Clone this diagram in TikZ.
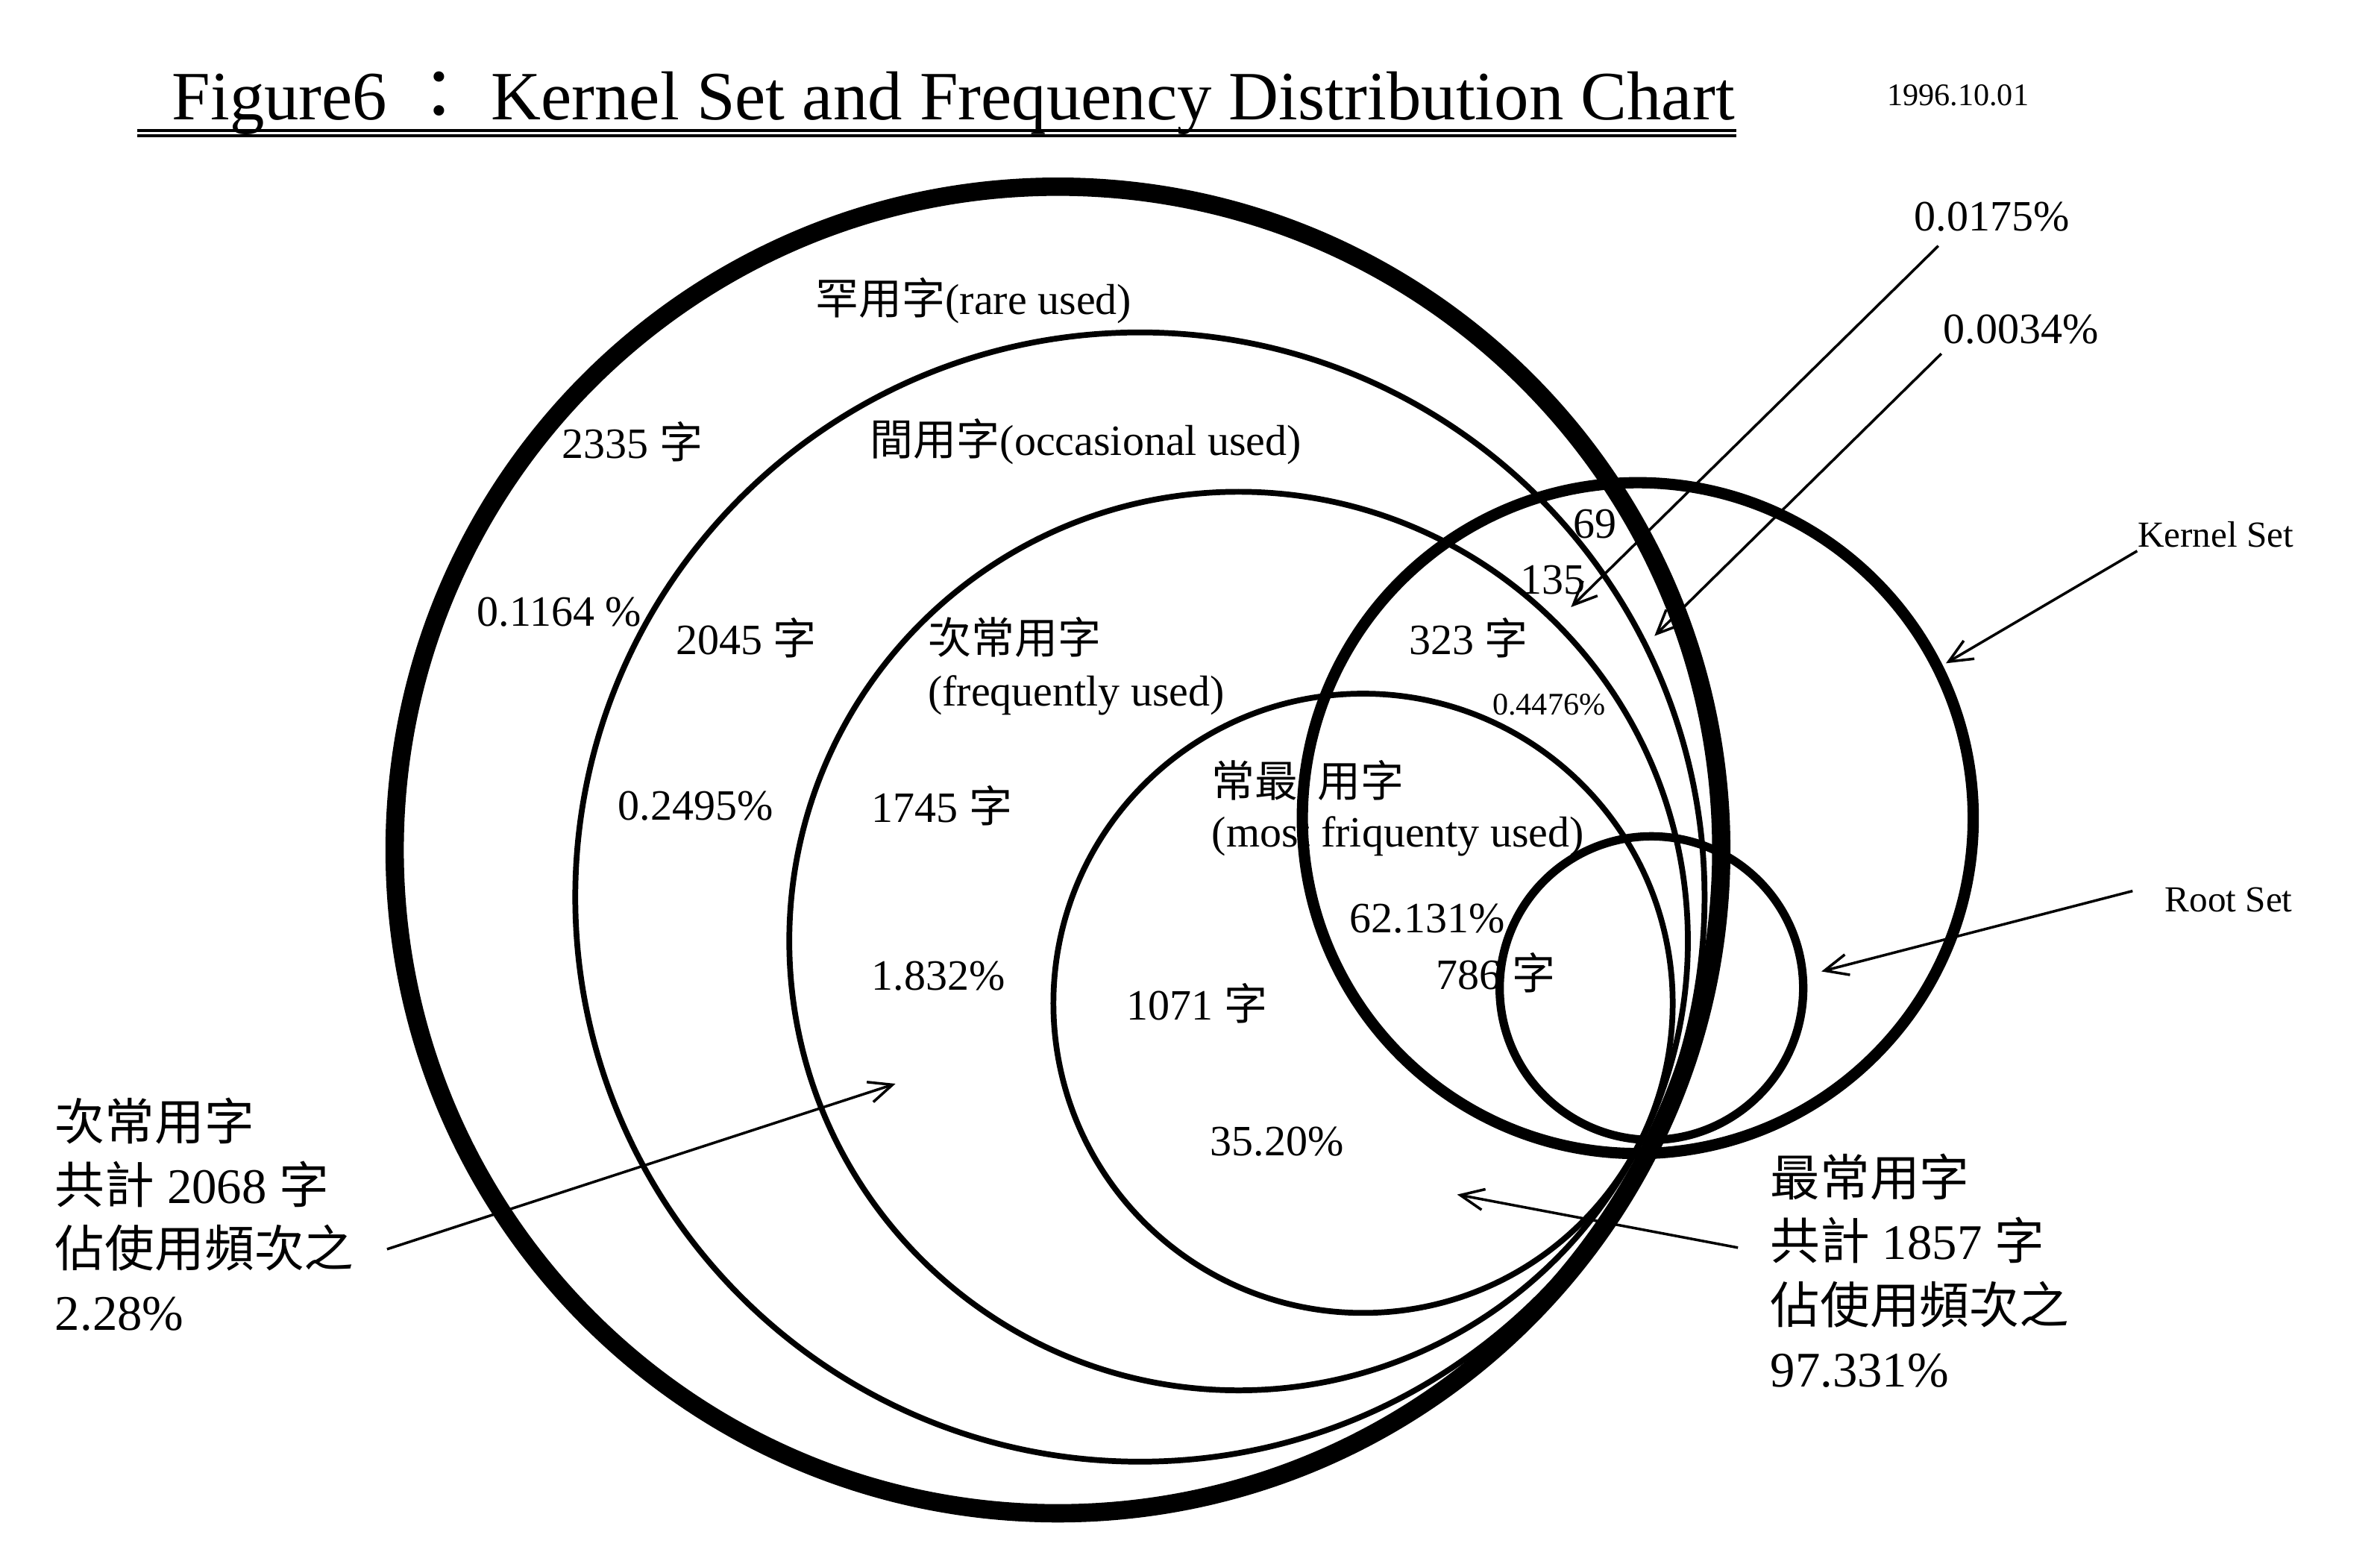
\documentclass[tikz,border=0pt]{standalone}
\usepackage{fontspec}
\setmainfont{Liberation Serif}
\newfontfamily\cjk{Noto Sans CJK TC}
\usetikzlibrary{arrows.meta}
\newcommand{\zh}[1]{{\cjk #1}}

\begin{document}
\begin{tikzpicture}[x=0.2035mm, y=-0.2035mm,
    thick ring/.style={line width=7pt},
    kernel ring/.style={line width=4.3pt},
    root ring/.style={line width=3.2pt},
    thin ring/.style={line width=2.2pt},
    lbl/.style={anchor=west, inner sep=0pt, font=\fontsize{16.5}{19}\selectfont},
    small lbl/.style={lbl, font=\fontsize{12}{14}\selectfont},
    set lbl/.style={lbl, font=\fontsize{14}{16}\selectfont},
    side lbl/.style={anchor=north west, inner sep=0pt, align=left, font=\fontsize{19}{24.2}\selectfont},
    pointer/.style={line width=1pt, -{Straight Barb[length=9pt, width=8pt]}},
  ]
  \fill [white] (0,0) rectangle (1568,1032);
  % title
  \node [anchor=base west, inner sep=0pt, font=\fontsize{26.4}{30}\selectfont] (title) at (113,79)
    {Figure6 \zh{：} Kernel Set and Frequency Distribution Chart};
  \draw [line width=1.1pt] (90.6,86) -- (1144,86);
  \draw [line width=1.1pt] (90.6,89.6) -- (1144,89.6);
  \node [small lbl] (date) at (1243,63) {1996.10.01};
  % labels inside the rings
  \node [lbl] (rare) at (537,198) {\zh{罕用字}(rare used)};
  \node [lbl] (n2335) at (370,291) {2335 \zh{字}};
  \node [lbl] (occ) at (573,291) {\zh{間用字}(occasional used)};
  \node [lbl, anchor=center] (n69) at (1051,345) {69};
  \node [lbl, anchor=center] (n135) at (1023,382) {135};
  \node [lbl] (p1164) at (314,403) {0.1164 \%};
  \node [lbl] (n2045) at (445,420) {2045 \zh{字}};
  \node [lbl] (freq) at (611,420) {\zh{次常用字}};
  \node [lbl] (freqen) at (611,458) {(frequently used)};
  \node [lbl] (n323) at (928,420) {323 \zh{字}};
  \node [small lbl] (p4476) at (983,464) {0.4476\%};
  \node [lbl] (p2495) at (407,531) {0.2495\%};
  \node [lbl] (n1745) at (574,531) {1745 \zh{字}};
  \node [lbl] (most) at (798,514) {\zh{常最\hspace{0.45em}用字}};
  \node [lbl] (mosten) at (798,551) {(most friquenty used)};
  \node [lbl] (p62131) at (889,605) {62.131\%};
  \node [lbl] (n786) at (946,641) {786 \zh{字}};
  \node [lbl] (p1832) at (574,643) {1.832\%};
  \node [lbl] (n1071) at (742,661) {1071 \zh{字}};
  \node [lbl] (p3520) at (797,752) {35.20\%};
  % labels outside
  \node [lbl] (p0175) at (1261,143) {0.0175\%};
  \node [lbl] (p0034) at (1280,217) {0.0034\%};
  \node [set lbl] (kern) at (1408,352) {Kernel Set};
  \node [set lbl] (rootl) at (1426,593) {Root Set};
  \node [side lbl] (second) at (36,723)
    {\zh{次常用字}\\\zh{共計} 2068 \zh{字}\\\zh{佔使用頻次之}\\2.28\%};
  \node [side lbl] (first) at (1166,760)
    {\zh{最常用字}\\\zh{共計} 1857 \zh{字}\\\zh{佔使用頻次之}\\97.331\%};
  % rings
  \coordinate (rareC) at (697,560);
  \coordinate (occC) at (751,591);
  \coordinate (freqC) at (816,620);
  \coordinate (mostC) at (898,661);
  \coordinate (kernC) at (1079,539);
  \coordinate (rootC) at (1088,651);
  \draw [thick ring] (rareC) circle [radius=437];
  \draw [thin ring] (occC) circle [radius=372];
  \draw [thin ring] (freqC) circle [radius=296];
  \draw [thin ring] (mostC) circle [radius=204];
  \draw [kernel ring] (kernC) circle [radius=221];
  \draw [root ring] (rootC) circle [radius=100];
  % pointers
  \coordinate (s0175) at (1277,162);
  \coordinate (t0175) at (1035,400);
  \coordinate (s0034) at (1279,233);
  \coordinate (t0034) at (1090,419);
  \coordinate (skern) at (1408,363);
  \coordinate (tkern) at (1282,437);
  \coordinate (sroot) at (1405,587);
  \coordinate (troot) at (1200,640);
  \coordinate (ssecond) at (255,823);
  \coordinate (tsecond) at (590,714);
  \coordinate (sfirst) at (1145,822);
  \coordinate (tfirst) at (960,787);
  \draw [pointer] (s0175) -- (t0175);
  \draw [pointer] (s0034) -- (t0034);
  \draw [pointer] (skern) -- (tkern);
  \draw [pointer] (sroot) -- (troot);
  \draw [pointer] (ssecond) -- (tsecond);
  \draw [pointer] (sfirst) -- (tfirst);
\end{tikzpicture}
\end{document}
